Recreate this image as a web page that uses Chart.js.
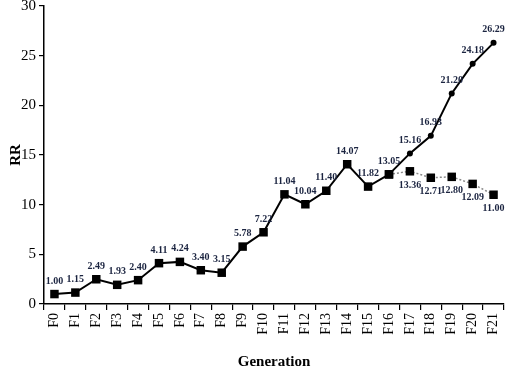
<!DOCTYPE html>
<html>
<head>
<meta charset="utf-8">
<script src="https://cdn.jsdelivr.net/npm/chart.js@4/dist/chart.umd.min.js"></script>
<style>
  html, body { margin: 0; padding: 0; background: #fff; }
  #wrap { width: 505px; height: 369px; position: relative; }
</style>
</head>
<body>
<div id="wrap"><canvas id="c" width="505" height="369"></canvas></div>
<script>
const categories = ['F0','F1','F2','F3','F4','F5','F6','F7','F8','F9','F10','F11','F12','F13','F14','F15','F16','F17','F18','F19','F20','F21'];
const mainValues = [1.00, 1.15, 2.49, 1.93, 2.40, 4.11, 4.24, 3.40, 3.15, 5.78, 7.22, 11.04, 10.04, 11.40, 14.07, 11.82, 13.05, null, null, null, null, null];
const riseValues = [null, null, null, null, null, null, null, null, null, null, null, null, null, null, null, null, 13.05, 15.16, 16.93, 21.20, 24.18, 26.29];
const dropValues = [null, null, null, null, null, null, null, null, null, null, null, null, null, null, null, null, 13.05, 13.36, 12.71, 12.80, 12.09, 11.00];
const yTicks = [0, 5, 10, 15, 20, 25, 30];

const SERIF = '"Liberation Serif", "Times New Roman", serif';
const LABEL_COLOR = '#1b2440';

const labelPlugin = {
  id: 'valueLabels',
  afterDatasetsDraw(chart) {
    const ctx = chart.ctx;
    ctx.save();
    ctx.font = 'bold 10px ' + SERIF;
    ctx.fillStyle = LABEL_COLOR;
    ctx.textAlign = 'center';
    chart.data.datasets.forEach((ds, di) => {
      const meta = chart.getDatasetMeta(di);
      const below = ds.labelBelow;
      meta.data.forEach((pt, i) => {
        const v = ds.data[i];
        if (v === null || v === undefined) return;
        if (ds.skipLabelIndex === i) return;
        const txt = v.toFixed(2);
        if (below) {
          ctx.textBaseline = 'top';
          ctx.fillText(txt, pt.x, pt.y + 9);
        } else {
          ctx.textBaseline = 'bottom';
          ctx.fillText(txt, pt.x, pt.y - 8);
        }
      });
    });
    ctx.restore();
  }
};

new Chart(document.getElementById('c'), {
  type: 'line',
  data: {
    labels: categories,
    datasets: [
      {
        data: mainValues,
        borderColor: '#000',
        backgroundColor: '#000',
        borderWidth: 2,
        pointStyle: 'rect',
        pointRadius: 6,
        pointBorderWidth: 0,
        spanGaps: false,
        clip: false,
        order: 1
      },
      {
        data: riseValues,
        borderColor: '#000',
        backgroundColor: '#000',
        borderWidth: 2,
        pointStyle: 'circle',
        pointRadius: 3,
        pointBorderWidth: 0,
        skipLabelIndex: 16,
        clip: false,
        order: 2
      },
      {
        data: dropValues,
        borderColor: '#8a8a8a',
        backgroundColor: '#000',
        borderWidth: 1.5,
        borderDash: [2, 2],
        pointStyle: 'rect',
        pointRadius: 6,
        pointBorderWidth: 0,
        labelBelow: true,
        skipLabelIndex: 16,
        clip: false,
        order: 3
      }
    ]
  },
  options: {
    responsive: false,
    animation: false,
    devicePixelRatio: 1,
    layout: { autoPadding: false, padding: { top: 6, right: 1, left: 0, bottom: 0 } },
    plugins: {
      legend: { display: false },
      tooltip: { enabled: false }
    },
    elements: { line: { tension: 0 } },
    scales: {
      x: {
        type: 'category',
        offset: true,
        grid: {
          display: true,
          offset: true,
          drawOnChartArea: false,
          drawTicks: true,
          tickLength: 6,
          color: '#000',
          lineWidth: 1.2
        },
        border: { display: true, color: '#000', width: 1.5 },
        ticks: {
          color: '#000',
          font: { family: SERIF, size: 14 },
          maxRotation: 90,
          minRotation: 90,
          padding: 3,
          autoSkip: false
        },
        title: {
          display: true,
          text: 'Generation',
          color: '#000',
          font: { family: SERIF, size: 15, weight: 'bold' },
          padding: { top: 10, bottom: -2 }
        },
        afterFit(scale) {
          scale.height = 65;
          scale.paddingLeft = 0;
          scale.paddingRight = 0;
        }
      },
      y: {
        min: 0,
        max: 30,
        afterBuildTicks(scale) { scale.ticks = yTicks.map(v => ({ value: v })); },
        grid: {
          display: true,
          drawOnChartArea: false,
          drawTicks: true,
          tickLength: 5,
          color: '#000',
          lineWidth: 1.2
        },
        border: { display: true, color: '#000', width: 1.5 },
        ticks: {
          color: '#000',
          font: { family: SERIF, size: 15 },
          padding: 3
        },
        title: {
          display: true,
          text: 'RR',
          color: '#000',
          font: { family: SERIF, size: 15, weight: 'bold' },
          padding: { top: 7, bottom: 0 }
        },
        afterFit(scale) {
          scale.width = 44;
          scale.paddingTop = 0;
          scale.paddingBottom = 0;
        }
      }
    }
  },
  plugins: [labelPlugin]
});
</script>
</body>
</html>
